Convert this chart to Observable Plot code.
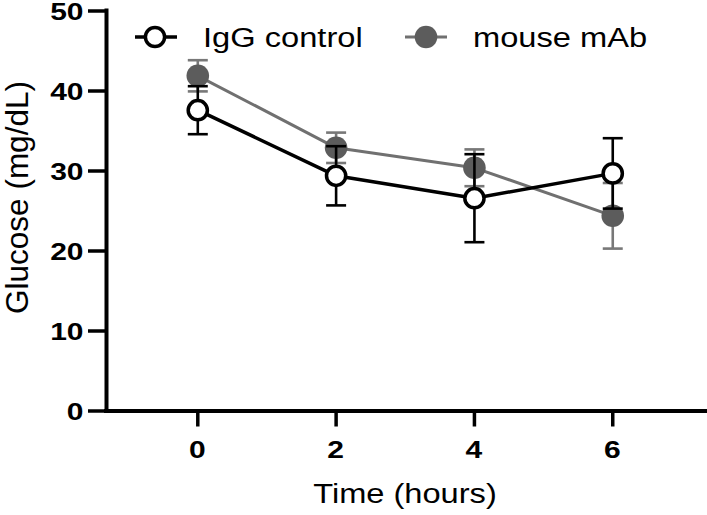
<!DOCTYPE html>
<html>
<head>
<meta charset="utf-8">
<script src="https://cdn.jsdelivr.net/npm/d3@7"></script>
<script src="https://cdn.jsdelivr.net/npm/@observablehq/plot@0.6"></script>
<style>
  html, body { margin: 0; padding: 0; background: white; }
  #chart { width: 707px; height: 515px; }
</style>
</head>
<body>
<div id="chart"></div>
<script>
// ---- data ----
const hours = [0, 2, 4, 6];
const iggMean = [37.6, 29.4, 26.6, 29.7];
const iggSem = [3.0, 3.7, 5.5, 4.4];
const mabMean = [41.9, 32.9, 30.4, 24.4];
const mabSem = [1.95, 1.9, 2.3, 4.1];
const seriesNames = ["IgG control", "mouse mAb"];
const xTicks = [0, 2, 4, 6];
const yTicks = [0, 10, 20, 30, 40, 50];
const xTitle = "Time (hours)";
const yTitle = "Glucose (mg/dL)";

const xDomain = [-1.32, 7.37];
const yDomain = [0, 50];

const FONT = "'Liberation Sans', Arial, Helvetica, sans-serif";
const GRAY_DOT = "#5c5c5c", GRAY_LINE = "#707070", GRAY_ERR = "#787878";

function rows(mean, sem) {
  return hours.map((t, i) => ({t, v: mean[i], lo: mean[i] - sem[i], hi: mean[i] + sem[i]}));
}
function caps(mean, sem) {
  return hours.flatMap((t, i) => [{t, v: mean[i] - sem[i]}, {t, v: mean[i] + sem[i]}]);
}
const igg = rows(iggMean, iggSem), mab = rows(mabMean, mabSem);
const iggCaps = caps(iggMean, iggSem), mabCaps = caps(mabMean, mabSem);

const capSymbol = {
  draw(context, size) {
    const w = Math.sqrt(size / Math.PI);
    context.moveTo(-w, 0);
    context.lineTo(w, 0);
  }
};

const chart = Plot.plot({
  width: 707,
  height: 515,
  marginLeft: 106,
  marginRight: 0,
  marginTop: 10.5,
  marginBottom: 104.5,
  x: {domain: xDomain},
  y: {domain: yDomain},
  style: {fontFamily: FONT, color: "black", background: "white", overflow: "visible"},
  marks: [
    // tick marks only; labels are placed below with the plot's own scales
    Plot.axisX(xTicks, {tickSize: 16, strokeWidth: 3.5, tickFormat: () => "", label: null}),
    Plot.axisY(yTicks, {tickSize: 18, strokeWidth: 3.5, tickFormat: () => "", label: null}),
    Plot.ruleY([yDomain[0]], {strokeWidth: 4, strokeLinecap: "square"}),
    Plot.ruleX([xDomain[0]], {strokeWidth: 4, strokeLinecap: "square"}),
    // mouse mAb (gray)
    Plot.line(mab, {x: "t", y: "v", stroke: GRAY_LINE, strokeWidth: 3}),
    Plot.ruleX(mab, {x: "t", y1: "lo", y2: "hi", stroke: GRAY_ERR, strokeWidth: 2.6}),
    Plot.dot(mabCaps, {x: "t", y: "v", r: 10, symbol: capSymbol, fill: "none", stroke: GRAY_ERR, strokeWidth: 2.6}),
    Plot.dot(mab, {x: "t", y: "v", r: 11.3, fill: GRAY_DOT, stroke: "none"}),
    // IgG control (black, open)
    Plot.line(igg, {x: "t", y: "v", stroke: "black", strokeWidth: 3.5}),
    Plot.ruleX(igg, {x: "t", y1: "lo", y2: "hi", stroke: "black", strokeWidth: 2.6}),
    Plot.dot(iggCaps, {x: "t", y: "v", r: 10, symbol: capSymbol, fill: "none", stroke: "black", strokeWidth: 2.6}),
    Plot.dot(igg, {x: "t", y: "v", r: 9.6, fill: "white", stroke: "black", strokeWidth: 3.5})
  ]
});

document.getElementById("chart").appendChild(chart);

const svg = d3.select(chart);
// remove empty label texts left by the axes
svg.selectAll("text").filter(function () { return !this.textContent; }).remove();

const xs = chart.scale("x"), ys = chart.scale("y");
const SX = 1.25;

// tick labels, positioned with the plot's scales
const tickG = svg.append("g").attr("font-family", FONT).attr("font-size", 24).attr("font-weight", "bold").attr("fill", "black");
xTicks.forEach(v => {
  tickG.append("text")
    .attr("transform", `translate(${xs.apply(v)},458.2) scale(${SX},1)`)
    .attr("text-anchor", "middle")
    .text(String(v));
});
yTicks.forEach(v => {
  tickG.append("text")
    .attr("transform", `translate(83.5,${ys.apply(v) + 9.4}) scale(${SX},1)`)
    .attr("text-anchor", "end")
    .text(String(v));
});

// axis titles
svg.append("text")
  .attr("transform", "translate(405,503) scale(1.165,1)")
  .attr("text-anchor", "middle")
  .attr("font-family", FONT)
  .attr("font-size", 28)
  .attr("fill", "black")
  .text(xTitle);

svg.append("text")
  .attr("transform", "translate(27.5,197.5) rotate(-90)")
  .attr("text-anchor", "middle")
  .attr("font-family", FONT)
  .attr("font-size", 31.5)
  .attr("fill", "black")
  .text(yTitle);

// legend
const legend = svg.append("g").attr("font-family", FONT).attr("font-size", 27).attr("text-anchor", "start");
const items = [
  {name: seriesNames[0], x0: 135, x1: 177, cx: 155, tx: 203, line: "black", lw: 3.5, fill: "white", stroke: "black", r: 9.6},
  {name: seriesNames[1], x0: 405, x1: 447, cx: 426, tx: 473, line: GRAY_LINE, lw: 3, fill: GRAY_DOT, stroke: "none", r: 11.3}
];
items.forEach(it => {
  legend.append("line").attr("x1", it.x0).attr("x2", it.x1).attr("y1", 37).attr("y2", 37)
    .attr("stroke", it.line).attr("stroke-width", it.lw);
  legend.append("circle").attr("cx", it.cx).attr("cy", 37).attr("r", it.r)
    .attr("fill", it.fill).attr("stroke", it.stroke).attr("stroke-width", 3.5);
  legend.append("text").attr("transform", `translate(${it.tx},47) scale(1.21,1)`)
    .attr("text-anchor", "start")
    .attr("fill", "black").text(it.name);
});
</script>
</body>
</html>
